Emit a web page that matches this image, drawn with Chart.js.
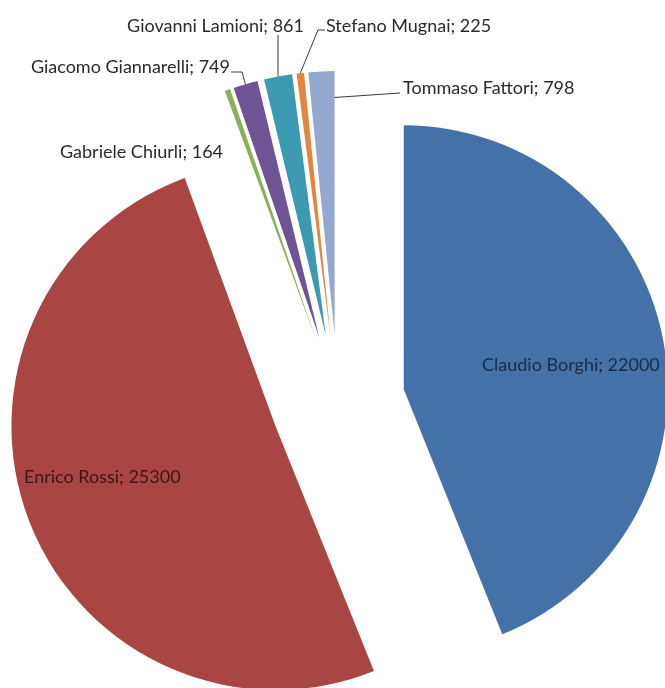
<!DOCTYPE html>
<html>
<head>
<meta charset="utf-8">
<script src="https://cdn.jsdelivr.net/npm/chart.js@4.4.1/dist/chart.umd.min.js"></script>
<style>
  html, body { margin: 0; padding: 0; background: #fff; }
  #wrap { width: 665px; height: 688px; overflow: hidden; }
</style>
</head>
<body>
<div id="wrap"><canvas id="pie" width="665" height="688"></canvas></div>
<script>
const names = ['Claudio Borghi', 'Enrico Rossi', 'Gabriele Chiurli', 'Giacomo Giannarelli',
  'Giovanni Lamioni', 'Stefano Mugnai', 'Tommaso Fattori'];
const votes = [22000, 25300, 164, 749, 861, 225, 798];
const sliceColors = ['#4472A8', '#A94543', '#8CB05A', '#6F5495', '#3C99B2', '#E2873F', '#93A9D0'];

const EXPLODE = 67; // px every slice is pulled out from the centre
const FONT = '18px Lato, "Open Sans", sans-serif';

// where Excel put the data labels, and how the leader lines run
const labelLayout = [
  { x: 482, y: 365, align: 'left', color: '#1b2b48' },
  { x: 24, y: 477, align: 'left', color: '#3b1717' },
  { x: 60, y: 152, align: 'left', color: '#2a2a2a' },
  { x: 230, y: 67, align: 'right', color: '#2a2a2a', leader: [[231, 72], [242, 72]], to: { t: 0.5, r: 1 } },
  { x: 304, y: 26, align: 'right', color: '#2a2a2a', leader: [[278, 35]], to: { t: 0.5, r: 1 } },
  { x: 326, y: 26, align: 'left', color: '#2a2a2a', leader: [[325, 30], [318, 30]], to: { t: 0.5, r: 1 } },
  { x: 403, y: 88, align: 'left', color: '#2a2a2a', leader: [[400, 93]], to: { t: 1, r: 0.9 } }
];

const explodePlugin = {
  id: 'explode',
  afterDatasetsUpdate(chart) {
    chart.getDatasetMeta(0).data.forEach(arc => {
      const mid = (arc.startAngle + arc.endAngle) / 2;
      arc.x += Math.cos(mid) * EXPLODE;
      arc.y += Math.sin(mid) * EXPLODE;
    });
  }
};

const labelPlugin = {
  id: 'pieLabels',
  afterDatasetsDraw(chart) {
    const ctx = chart.ctx;
    const arcs = chart.getDatasetMeta(0).data;
    ctx.save();
    ctx.font = FONT;
    ctx.textBaseline = 'middle';
    arcs.forEach((arc, i) => {
      const lay = labelLayout[i];
      if (lay.leader) {
        const a = arc.startAngle + (arc.endAngle - arc.startAngle) * lay.to.t;
        const r = arc.outerRadius * lay.to.r;
        ctx.beginPath();
        ctx.strokeStyle = '#3a3a3a';
        ctx.lineWidth = 1;
        lay.leader.forEach((p, k) => k ? ctx.lineTo(p[0], p[1]) : ctx.moveTo(p[0], p[1]));
        ctx.lineTo(arc.x + Math.cos(a) * r, arc.y + Math.sin(a) * r);
        ctx.stroke();
      }
      ctx.fillStyle = lay.color;
      ctx.textAlign = lay.align;
      ctx.fillText(names[i] + '; ' + votes[i], lay.x, lay.y);
    });
    ctx.restore();
  }
};

new Chart(document.getElementById('pie'), {
  type: 'pie',
  data: {
    labels: names,
    datasets: [{
      data: votes,
      backgroundColor: sliceColors,
      borderWidth: 0,
      clip: false
    }]
  },
  options: {
    responsive: false,
    animation: false,
    events: [],
    radius: 264,
    layout: { padding: { left: 11, right: 0, top: 116, bottom: 0 } },
    plugins: {
      legend: { display: false },
      tooltip: { enabled: false }
    }
  },
  plugins: [explodePlugin, labelPlugin]
});
</script>
</body>
</html>
